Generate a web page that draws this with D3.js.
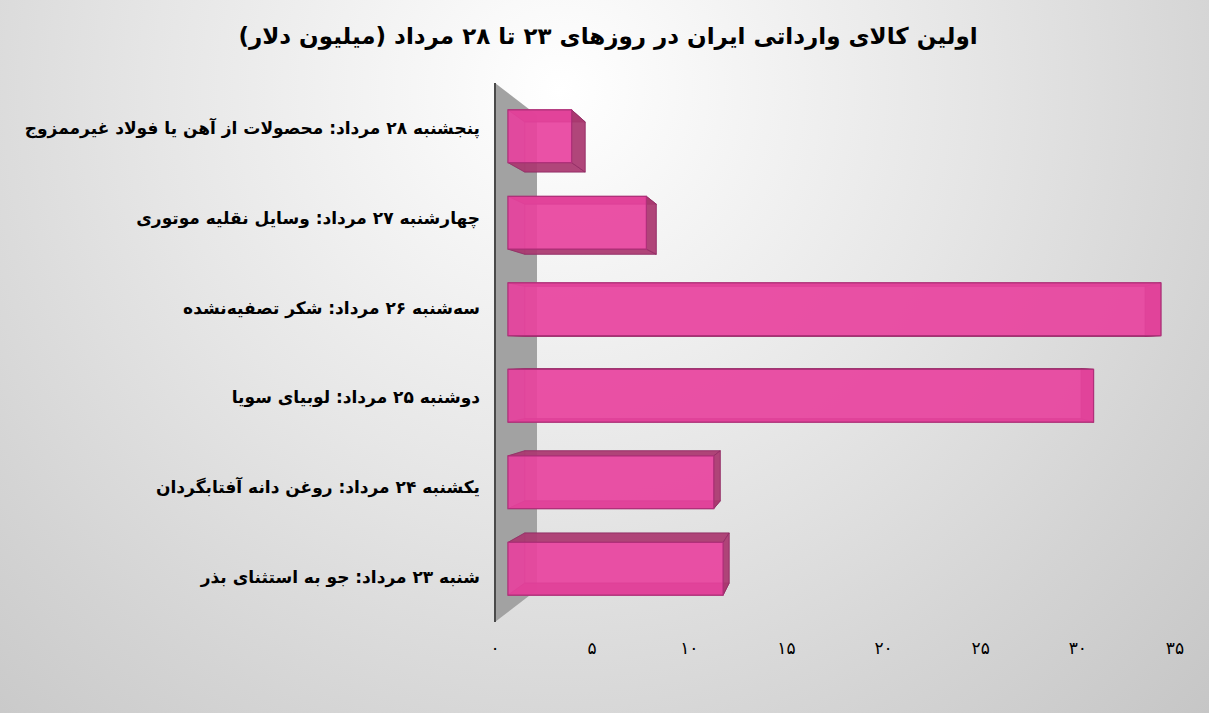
<!DOCTYPE html>
<html lang="fa">
<head>
<meta charset="utf-8">
<script src="https://cdn.jsdelivr.net/npm/d3@7/dist/d3.min.js"></script>
<style>
  html, body { margin: 0; padding: 0; background: #fff; }
  svg { display: block; }
  text { font-family: "DejaVu Sans", "Noto Sans", sans-serif; }
</style>
</head>
<body>
<svg id="chart" width="1209" height="713"></svg>
<script>
// Import data (million USD), listed top to bottom
const days = [
  "پنجشنبه ۲۸ مرداد",
  "چهارشنبه ۲۷ مرداد",
  "سه‌شنبه ۲۶ مرداد",
  "دوشنبه ۲۵ مرداد",
  "یکشنبه ۲۴ مرداد",
  "شنبه ۲۳ مرداد"
];
const goods = [
  "محصولات از آهن یا فولاد غیرممزوج",
  "وسایل نقلیه موتوری",
  "شکر تصفیه‌نشده",
  "لوبیای سویا",
  "روغن دانه آفتابگردان",
  "جو به استثنای بذر"
];
const values = [3.4, 7.4, 34.9, 31.3, 11.0, 11.5];
const tickValues = [0, 5, 10, 15, 20, 25, 30, 35];
const tickLabels = ["۰", "۵", "۱۰", "۱۵", "۲۰", "۲۵", "۳۰", "۳۵"];
const title = "اولین کالای وارداتی ایران در روزهای ۲۳ تا ۲۸ مرداد (میلیون دلار)";

const categories = days.map((d, i) => d + ": " + goods[i]);

const W = 1209, H = 713;
const svg = d3.select("#chart");

// background
const defs = svg.append("defs");
const bg = defs.append("radialGradient").attr("id", "bg")
  .attr("gradientUnits", "userSpaceOnUse")
  .attr("cx", 560).attr("cy", 90).attr("r", 900);
bg.append("stop").attr("offset", 0).attr("stop-color", "#ffffff");
bg.append("stop").attr("offset", 0.45).attr("stop-color", "#e6e6e6");
bg.append("stop").attr("offset", 0.75).attr("stop-color", "#d4d4d4");
bg.append("stop").attr("offset", 1).attr("stop-color", "#c6c6c6");
svg.append("rect").attr("width", W).attr("height", H).attr("fill", "url(#bg)");

// scales on the front (axis) plane
const x = d3.scaleLinear().domain([0, 35]).range([495, 1175]);
const y = d3.scaleBand().domain(categories).range([83, 622])
  .paddingInner(0.39).paddingOuter(0.195);

// simple one-point perspective: depth factor shrinks toward the vanishing point
const VP = { x: 845, y: 352.5 };
const DEPTH = { wall: 0.88, barFront: 0.963, barBack: 0.915 };
const proj = (px, py, r) => [VP.x + (px - VP.x) * r, VP.y + (py - VP.y) * r];
const poly = pts => "M" + pts.map(p => p.join(",")).join("L") + "Z";

// side wall at value 0
const wx = x(0), wy0 = y.range()[0], wy1 = y.range()[1];
svg.append("path")
  .attr("d", poly([proj(wx, wy0, 1), proj(wx, wy0, DEPTH.wall),
                   proj(wx, wy1, DEPTH.wall), proj(wx, wy1, 1)]))
  .attr("fill", "#a2a2a2");
svg.append("line")
  .attr("x1", wx).attr("x2", wx).attr("y1", wy0).attr("y2", wy1)
  .attr("stroke", "#4a4a4a").attr("stroke-width", 2);

// 3D bars
const bars = svg.append("g");
categories.forEach((c, i) => {
  const x0 = x(0), x1 = x(values[i]);
  const y0 = y(c), y1 = y(c) + y.bandwidth();
  const f = (px, py) => proj(px, py, DEPTH.barFront);
  const b = (px, py) => proj(px, py, DEPTH.barBack);
  const F = { tl: f(x0, y0), tr: f(x1, y0), br: f(x1, y1), bl: f(x0, y1) };
  const B = { tl: b(x0, y0), tr: b(x1, y0), br: b(x1, y1), bl: b(x0, y1) };
  const g = bars.append("g");
  const edge = "#8f2a62";
  // back face
  g.append("path").attr("d", poly([B.tl, B.tr, B.br, B.bl]))
    .attr("fill", "#e24a9c").attr("fill-opacity", 0.35)
    .attr("stroke", edge).attr("stroke-opacity", 0.35).attr("stroke-width", 1);
  // left face
  g.append("path").attr("d", poly([F.tl, B.tl, B.bl, F.bl]))
    .attr("fill", "#c23c88").attr("fill-opacity", 0.35)
    .attr("stroke", edge).attr("stroke-opacity", 0.3).attr("stroke-width", 1);
  // top / bottom / right faces
  [[F.tl, F.tr, B.tr, B.tl], [F.bl, F.br, B.br, B.bl], [F.tr, B.tr, B.br, F.br]]
    .forEach(face => {
      g.append("path").attr("d", poly(face))
        .attr("fill", "#a8396f").attr("fill-opacity", 0.9)
        .attr("stroke", edge).attr("stroke-opacity", 0.7).attr("stroke-width", 1);
    });
  // front face
  g.append("path").attr("d", poly([F.tl, F.tr, F.br, F.bl]))
    .attr("fill", "#e8429e").attr("fill-opacity", 0.88)
    .attr("stroke", "#b0307a").attr("stroke-width", 1.2);
});

// category labels
svg.append("g").selectAll("text").data(categories).join("text")
  .attr("x", 480)
  .attr("y", d => y(d) + y.bandwidth() / 2)
  .attr("dy", "0.35em")
  .attr("direction", "rtl")
  .attr("text-anchor", "start")
  .attr("font-size", 17)
  .attr("font-weight", "bold")
  .attr("fill", "#000")
  .text(d => d);

// value axis labels
svg.append("g").selectAll("text").data(tickValues).join("text")
  .attr("x", d => x(d))
  .attr("y", 648)
  .attr("dy", "0.35em")
  .attr("text-anchor", "middle")
  .attr("font-size", 17)
  .attr("fill", "#000")
  .text((d, i) => tickLabels[i]);

// title
svg.append("text")
  .attr("x", 608).attr("y", 36)
  .attr("dy", "0.35em")
  .attr("direction", "rtl")
  .attr("text-anchor", "middle")
  .attr("font-size", 23)
  .attr("font-weight", "bold")
  .attr("fill", "#000")
  .text(title);
</script>
</body>
</html>
